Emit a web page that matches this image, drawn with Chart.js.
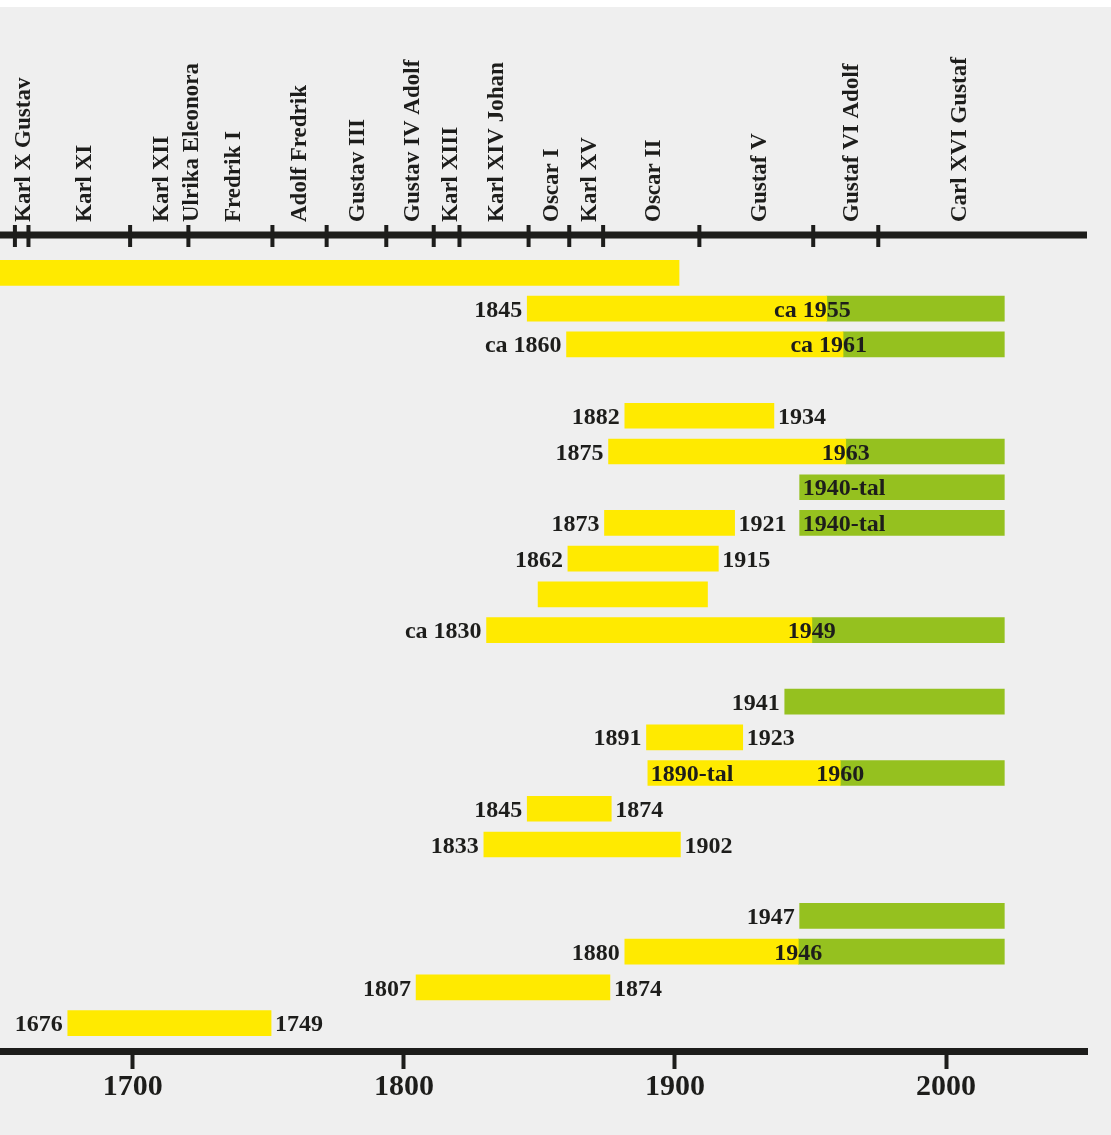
<!DOCTYPE html>
<html>
<head>
<meta charset="utf-8">
<script src="https://cdn.jsdelivr.net/npm/chart.js@4.4.0/dist/chart.umd.min.js"></script>
<style>
  html, body { margin: 0; padding: 0; background: #efefef; }
  #wrap { width: 1111px; height: 1135px; }
</style>
</head>
<body>
<div id="wrap"><canvas id="tidslinje" width="1111" height="1135"></canvas></div>
<script>
    // Regenter längs den övre axeln
    const regenter = ['Karl X Gustav', 'Karl XI', 'Karl XII', 'Ulrika Eleonora', 'Fredrik I', 'Adolf Fredrik',
        'Gustav III', 'Gustav IV Adolf', 'Karl XIII', 'Karl XIV Johan', 'Oscar I', 'Karl XV', 'Oscar II',
        'Gustaf V', 'Gustaf VI Adolf', 'Carl XVI Gustaf'];
    const regentAr = [1659, 1681.5, 1710, 1721, 1736.5, 1761, 1782.5, 1802.5, 1816.5, 1833.5, 1854, 1868,
        1891.5, 1930.5, 1964.5, 2004.5];
    const tronskiften = [1656.5, 1661.5, 1699, 1720.5, 1751.5, 1771.5, 1793.5, 1811, 1820.5, 1846, 1861,
        1873.5, 1909, 1951, 1975];

    // Årtal på den nedre axeln
    const arTal = [1700, 1800, 1900, 2000];

    // En rad per stapel (null = tom rad)
    const gulStart = [1600, 1845.5, 1860, null, 1881.5, 1875.5, null, 1874, 1860.5, 1849.5, 1830.5, null,
        null, 1889.5, 1890, 1845.5, 1829.5, null, null, 1881.5, 1804.5, 1676];
    const gulSlut = [1901.5, 1956, 1962, null, 1936.5, 1963, null, 1922, 1916, 1912, 1950.5, null,
        null, 1925, 1961, 1876.5, 1902, null, null, 1945.5, 1876, 1751];
    const gronStart = [null, 1956, 1962, null, null, 1963, 1946, 1946, null, null, 1950.5, null,
        1940.5, null, 1961, null, null, null, 1946, 1945.5, null, null];
    const gronSlut = [null, 2021.5, 2021.5, null, null, 2021.5, 2021.5, 2021.5, null, null, 2021.5, null,
        2021.5, null, 2021.5, null, null, null, 2021.5, 2021.5, null, null];

    // Etiketter
    const textFore = ['', '1845', 'ca 1860', '', '1882', '1875', '', '1873', '1862', '', 'ca 1830', '',
        '1941', '1891', '', '1845', '1833', '', '1947', '1880', '1807', '1676'];
    const textEfter = ['', '', '', '', '1934', '', '', '1921', '1915', '', '', '',
        '', '1923', '', '1874', '1902', '', '', '', '1874', '1749'];
    const textSkifte = ['', 'ca 1955', 'ca 1961', '', '', '1963', '', '', '', '', '1949', '',
        '', '', '1960', '', '', '', '', '1946', '', ''];
    const textIGul = ['', '', '', '', '', '', '', '', '', '', '', '',
        '', '', '1890-tal', '', '', '', '', '', '', ''];
    const textIGron = ['', '', '', '', '', '', '1940-tal', '1940-tal', '', '', '', '',
        '', '', '', '', '', '', '', '', '', ''];

    const svart = '#1d1d1b';
    const gul = '#ffea00';
    const gron = '#95c11f';
    const serif = '"Liberation Serif", "Times New Roman", serif';

    const gulData = [];
    const gronData = [];
    gulStart.forEach(function(s, i) {
        if (s !== null) gulData.push({ x: [s, gulSlut[i]], y: i });
        if (gronStart[i] !== null) gronData.push({ x: [gronStart[i], gronSlut[i]], y: i });
    });

    // Bakgrund
    const bakgrund = {
        id: 'bakgrund',
        beforeDraw(chart) {
            const ctx = chart.ctx;
            ctx.save();
            ctx.fillStyle = '#ffffff';
            ctx.fillRect(0, 0, chart.width, chart.height);
            ctx.fillStyle = '#efefef';
            ctx.fillRect(0, 7, chart.width, chart.height - 7);
            ctx.restore();
        }
    };

    // Övre axeln med regentnamn
    const regentAxel = {
        id: 'regentAxel',
        afterDraw(chart) {
            const ctx = chart.ctx;
            const area = chart.chartArea;
            const x = chart.scales.x;
            const yLinje = area.top - 20;
            ctx.save();
            ctx.fillStyle = svart;
            ctx.fillRect(area.left, yLinje - 3.5, area.right - area.left, 7);
            tronskiften.forEach(function(ar) {
                const px = x.getPixelForValue(ar);
                ctx.fillRect(px - 2, yLinje - 10, 4, 22);
            });
            ctx.font = 'bold 23px ' + serif;
            ctx.textAlign = 'left';
            ctx.textBaseline = 'alphabetic';
            regenter.forEach(function(namn, i) {
                const px = x.getPixelForValue(regentAr[i]);
                ctx.save();
                ctx.translate(px + 8, yLinje - 13);
                ctx.rotate(-Math.PI / 2);
                ctx.fillText(namn, 0, 0);
                ctx.restore();
            });
            ctx.restore();
        }
    };

    // Årtal vid staplarna
    const stapelText = {
        id: 'stapelText',
        afterDatasetsDraw(chart) {
            const ctx = chart.ctx;
            const x = chart.scales.x;
            const y = chart.scales.y;
            const storlek = 24;
            ctx.save();
            ctx.fillStyle = svart;
            ctx.font = 'bold ' + storlek + 'px ' + serif;
            ctx.textBaseline = 'alphabetic';
            for (let i = 0; i < gulStart.length; i++) {
                const yy = y.getPixelForValue(i) + storlek * 0.338;
                const start = gulStart[i] !== null ? gulStart[i] : gronStart[i];
                if (textFore[i]) {
                    ctx.textAlign = 'right';
                    ctx.fillText(textFore[i], x.getPixelForValue(start) - 5, yy);
                }
                if (textEfter[i]) {
                    ctx.textAlign = 'left';
                    ctx.fillText(textEfter[i], x.getPixelForValue(gulSlut[i]) + 4, yy);
                }
                if (textSkifte[i]) {
                    const ar = textSkifte[i].slice(-4);
                    const b = ctx.measureText(ar).width;
                    ctx.textAlign = 'right';
                    ctx.fillText(textSkifte[i], x.getPixelForValue(gronStart[i]) + b / 2, yy);
                }
                if (textIGul[i]) {
                    ctx.textAlign = 'left';
                    ctx.fillText(textIGul[i], x.getPixelForValue(gulStart[i]) + 3, yy);
                }
                if (textIGron[i]) {
                    ctx.textAlign = 'left';
                    ctx.fillText(textIGron[i], x.getPixelForValue(gronStart[i]) + 3, yy);
                }
            }
            ctx.restore();
        }
    };

    const dataTidslinje = {
        datasets: [{
            label: 'gul',
            data: gulData,
            backgroundColor: gul,
            borderWidth: 0
        }, {
            label: 'grön',
            data: gronData,
            backgroundColor: gron,
            borderWidth: 0
        }]
    };

    const configTidslinje = {
        type: 'bar',
        data: dataTidslinje,
        plugins: [bakgrund, regentAxel, stapelText],
        options: {
            indexAxis: 'y',
            responsive: false,
            animation: false,
            events: [],
            grouped: false,
            barThickness: 25,
            layout: {
                padding: { top: 255, left: 0, right: 24, bottom: 0 }
            },
            scales: {
                x: {
                    type: 'linear',
                    position: 'bottom',
                    min: 1651,
                    max: 2052,
                    afterBuildTicks: function(scale) {
                        scale.ticks = arTal.map(function(v) { return { value: v }; });
                    },
                    afterFit: function(scale) {
                        scale.height = 84;
                    },
                    grid: {
                        drawOnChartArea: false,
                        drawTicks: true,
                        tickLength: 18,
                        tickWidth: 4,
                        color: svart
                    },
                    border: {
                        display: true,
                        width: 7,
                        color: svart
                    },
                    ticks: {
                        padding: 0,
                        color: svart,
                        maxRotation: 0,
                        font: { family: serif, weight: 'bold', size: 30 },
                        callback: function(value) {
                            return String(value);
                        }
                    }
                },
                y: {
                    type: 'linear',
                    reverse: true,
                    offset: false,
                    min: -0.5,
                    max: 21.78,
                    display: false
                }
            },
            plugins: {
                legend: { display: false },
                tooltip: { enabled: false }
            }
        }
    };

    const ctxTidslinje = document.getElementById('tidslinje').getContext('2d');
    const grafTidslinje = new Chart(ctxTidslinje, configTidslinje);
</script>
</body>
</html>
